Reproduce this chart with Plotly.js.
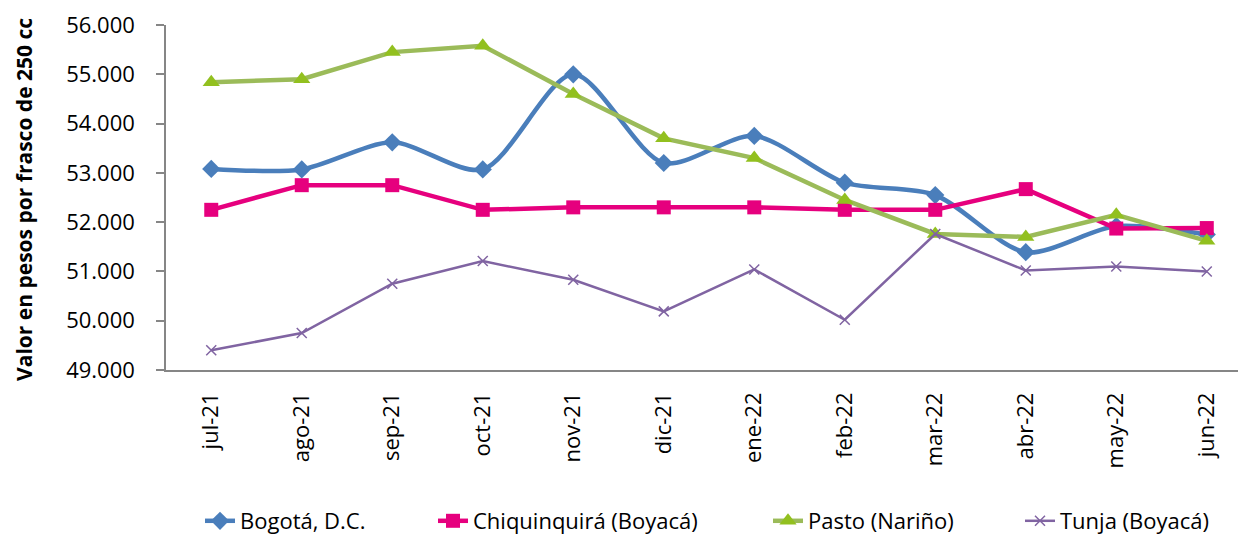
<!DOCTYPE html>
<html>
<head>
<meta charset="utf-8">
<script src="https://cdn.plot.ly/plotly-3.0.1.min.js"></script>
<style>html,body{margin:0;padding:0;background:#fff;}#chart{width:1238px;height:537px;}</style>
</head>
<body>
<div id="chart"></div>
<script>
const months = ["jul-21","ago-21","sep-21","oct-21","nov-21","dic-21","ene-22","feb-22","mar-22","abr-22","may-22","jun-22"];
const bogota = [53080, 53070, 53620, 53070, 55000, 53200, 53750, 52800, 52550, 51390, 51920, 51750];
const chiquinquira = [52250, 52750, 52750, 52250, 52300, 52300, 52300, 52250, 52250, 52670, 51870, 51880];
const pasto = [54840, 54900, 55450, 55580, 54600, 53700, 53300, 52450, 51760, 51700, 52150, 51620];
const tunja = [49400, 49750, 50750, 51210, 50830, 50190, 51040, 50020, 51760, 51020, 51100, 51000];
const yTicks = [49000, 50000, 51000, 52000, 53000, 54000, 55000, 56000];
const yTitle = "Valor en pesos por frasco de 250 cc";

const FONT = "Open Sans, DejaVu Sans, sans-serif";
const traces = [
  {name: "Bogotá, D.C.", y: bogota, legend: "legend",
   line: {color: "#4a7ebb", width: 4.5, shape: "spline", smoothing: 0.8},
   marker: {symbol: "diamond", size: 14, color: "#4a7ebb"}},
  {name: "Chiquinquirá (Boyacá)", y: chiquinquira, legend: "legend2",
   line: {color: "#e6007e", width: 4.5},
   marker: {symbol: "square", size: 14, color: "#e6007e"}},
  {name: "Pasto (Nariño)", y: pasto, legend: "legend3",
   line: {color: "#9bbb59", width: 4.5},
   marker: {symbol: "triangle-up", size: 15, color: "#92c01f"}},
  {name: "Tunja (Boyacá)", y: tunja, legend: "legend4",
   line: {color: "#8064a2", width: 2.5},
   marker: {symbol: "x-thin-open", size: 10, color: "#8064a2", line: {color: "#8064a2", width: 1.5}}}
].map(t => Object.assign({type: "scatter", mode: "lines+markers", x: months, hoverinfo: "x+y+name"}, t));

const legBase = {orientation: "h", yref: "container", yanchor: "middle", y: 16 / 537, xanchor: "left",
  font: {family: FONT, size: 22, color: "#000"}, bgcolor: "rgba(0,0,0,0)", itemwidth: 30};

const layout = {
  width: 1238, height: 537,
  margin: {l: 166, r: 0, t: 25, b: 167},
  paper_bgcolor: "#fff", plot_bgcolor: "#fff",
  separators: ",.",
  font: {family: FONT, size: 22, color: "#000"},
  showlegend: true,
  xaxis: {
    type: "category", categoryorder: "array", categoryarray: months,
    range: [-0.5, 11.345],
    showline: true, linecolor: "#868686", linewidth: 1.5,
    showgrid: false, zeroline: false, ticks: "",
    tickangle: -90, ticklabelstandoff: 12,
    tickfont: {family: FONT, size: 22, color: "#000"},
    automargin: false, fixedrange: true
  },
  yaxis: {
    range: [49000, 56000], tickvals: yTicks, tickformat: ",d",
    showline: true, linecolor: "#868686", linewidth: 1.5,
    ticks: "outside", ticklen: 8, tickcolor: "#868686", tickwidth: 1.5,
    ticklabelstandoff: 17,
    showgrid: false, zeroline: false,
    tickfont: {family: FONT, size: 22, color: "#000"},
    automargin: false, fixedrange: true
  },
  annotations: [{
    text: "<b>" + yTitle + "</b>", xref: "paper", yref: "paper", x: 0, y: 0.493,
    xanchor: "center", yanchor: "middle", xshift: -142, textangle: -90, showarrow: false,
    font: {family: FONT, size: 21, color: "#000"}
  }],
  legend: Object.assign({}, legBase, {x: (200 - 166) / 1072}),
  legend2: Object.assign({}, legBase, {x: (433 - 166) / 1072}),
  legend3: Object.assign({}, legBase, {x: (768 - 166) / 1072}),
  legend4: Object.assign({}, legBase, {x: (1020 - 166) / 1072})
};

Plotly.newPlot("chart", traces, layout, {displayModeBar: false, responsive: false});
</script>
</body>
</html>
